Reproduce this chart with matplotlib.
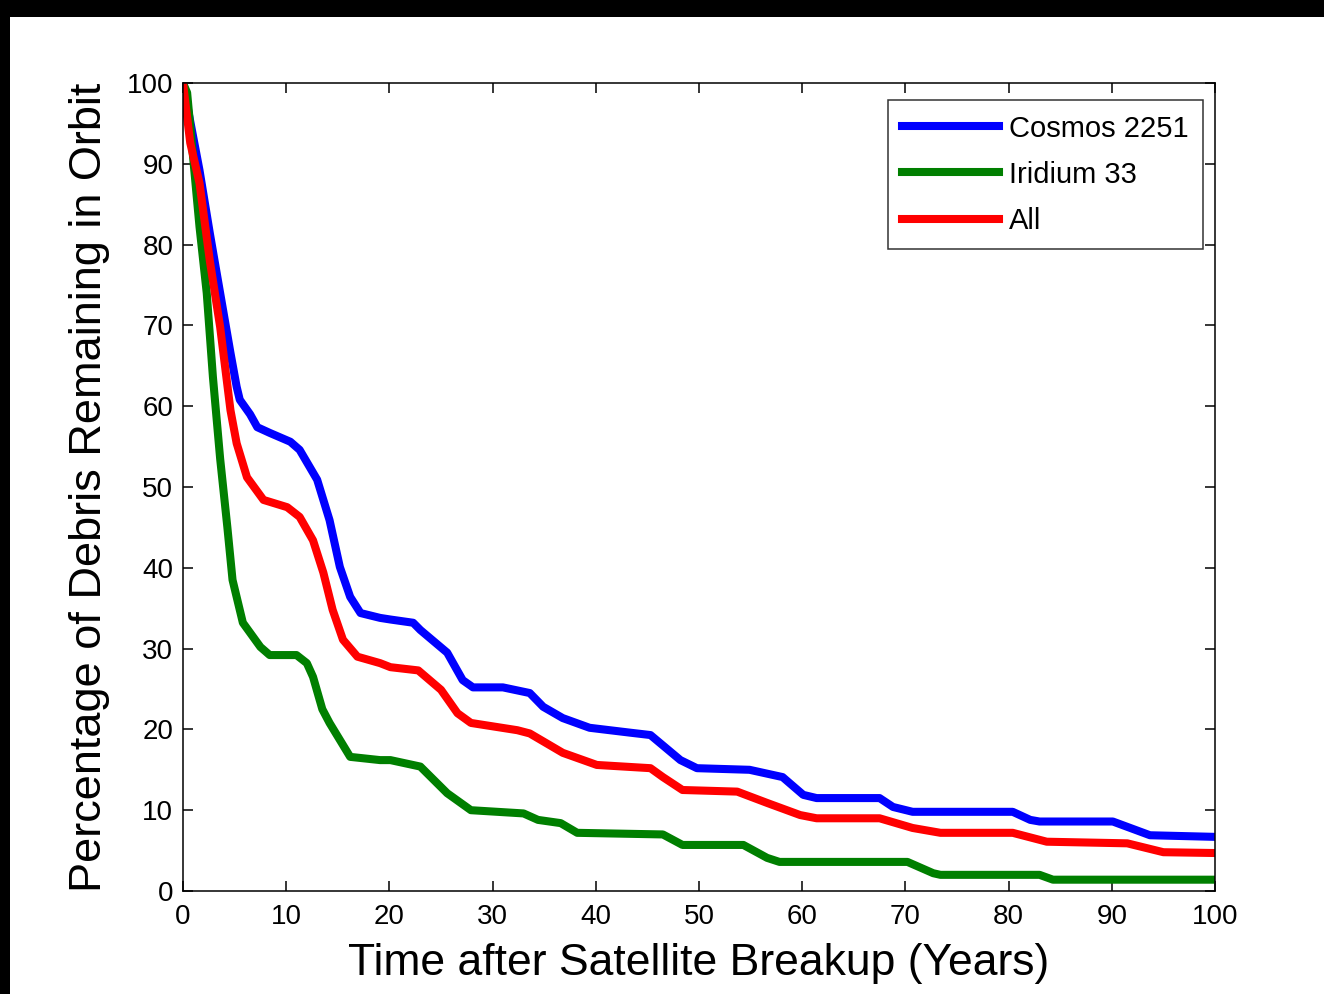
import numpy as np
import matplotlib
matplotlib.use('Agg')
import matplotlib.pyplot as plt
from matplotlib.patches import Rectangle

plt.rcParams['font.family'] = ['Liberation Sans', 'DejaVu Sans']

# values (years, % remaining)
cosmos_t = [0, 1.6, 2.6, 3.6, 4.6, 5.2, 5.5, 6.5, 7.2, 8.4, 10.4, 11.3, 13.0, 14.2, 15.2, 16.2,
            17.2, 19.1, 20.1, 22.3, 23.0, 25.6, 27.1, 28.1, 31.0, 33.6, 34.9, 36.8, 39.4, 43.3,
            45.3, 48.2, 49.8, 54.9, 58.1, 60.1, 61.4, 67.5, 68.8, 70.7, 80.4, 82.1, 83.0, 90.1,
            93.7, 100]
cosmos_v = [100, 89.2, 81.4, 74, 66.6, 62.4, 60.8, 59.0, 57.4, 56.7, 55.6, 54.6, 50.9, 45.9, 40.1,
            36.4, 34.4, 33.8, 33.6, 33.2, 32.3, 29.5, 26.1, 25.2, 25.2, 24.5, 22.8, 21.4, 20.2,
            19.6, 19.3, 16.2, 15.2, 15.0, 14.1, 11.9, 11.5, 11.5, 10.4, 9.8, 9.8, 8.8, 8.6, 8.6,
            6.9, 6.7]

iridium_t = [0, 0.4, 1.0, 1.6, 2.3, 2.9, 3.6, 4.3, 4.8, 5.8, 7.5, 8.4, 11.0, 12.0, 12.6, 13.5,
             14.2, 16.2, 19.1, 20.1, 23.0, 25.6, 27.9, 33.0, 34.4, 36.6, 38.2, 46.5, 48.4, 54.3,
             56.6, 57.8, 70.2, 72.7, 73.4, 83.0, 84.3, 100]
iridium_v = [100, 98.8, 90.5, 82.2, 74, 63.6, 53.5, 45, 38.5, 33.2, 30.2, 29.2, 29.2, 28.2, 26.5,
             22.5, 20.8, 16.6, 16.2, 16.2, 15.4, 12.1, 10.0, 9.6, 8.8, 8.4, 7.2, 7.0, 5.7, 5.7,
             4.1, 3.6, 3.6, 2.2, 2.0, 2.0, 1.4, 1.4]

all_t = [0, 0.7, 1.6, 2.6, 3.6, 4.6, 5.2, 6.2, 7.8, 10.1, 11.3, 12.6, 13.6, 14.5, 15.5, 16.9,
         19.1, 20.1, 22.8, 25.0, 26.6, 27.9, 32.4, 33.6, 36.8, 40.1, 45.3, 46.5, 48.4, 53.7,
         56.6, 59.8, 61.4, 67.5, 70.7, 73.4, 80.4, 83.7, 91.5, 95.0, 100]
all_v = [100, 92.6, 87.6, 78, 69.8, 59.5, 55.4, 51.2, 48.4, 47.5, 46.3, 43.4, 39.4, 34.8, 31.1,
         29.0, 28.2, 27.7, 27.3, 24.9, 22.0, 20.8, 19.9, 19.5, 17.1, 15.6, 15.2, 14.1, 12.5,
         12.3, 10.9, 9.4, 9.0, 9.0, 7.8, 7.2, 7.2, 6.1, 5.9, 4.8, 4.7]

ticks = np.arange(0, 101, 10)

fig = plt.figure(figsize=(13.24, 9.94), dpi=100)
fig.patch.set_facecolor('white')
# black bands at top and left edge of the screenshot
fig.patches.append(Rectangle((0, 1 - 17 / 994), 1, 17 / 994, transform=fig.transFigure,
                             facecolor='black', edgecolor='none', zorder=0))
fig.patches.append(Rectangle((0, 0), 10 / 1324, 1, transform=fig.transFigure,
                             facecolor='black', edgecolor='none', zorder=0))

ax = fig.add_axes([183 / 1324, 103 / 994, 1032 / 1324, 808 / 994])
lw = 5.8
ax.plot(cosmos_t, cosmos_v, color='#0000ff', lw=lw, label='Cosmos 2251')
ax.plot(iridium_t, iridium_v, color='#007f00', lw=lw, label='Iridium 33')
ax.plot(all_t, all_v, color='#ff0000', lw=lw, label='All')

ax.set_xlim(0, 100)
ax.set_ylim(0, 100)
ax.set_xticks(ticks)
ax.set_yticks(ticks)
ax.tick_params(direction='in', length=7, width=1.1, top=True, right=True,
               labelsize=20, pad=7)
ax.tick_params(axis='x', pad=9)
for s in ax.spines.values():
    s.set_linewidth(1.1)

ax.set_xlabel('Time after Satellite Breakup (Years)', fontsize=32, labelpad=10)
ax.set_ylabel('Percentage of Debris Remaining in Orbit', fontsize=32.5, labelpad=12)

leg = ax.legend(loc='upper right', bbox_to_anchor=((1203 - 183) / 1032, (891 - 100) / 808),
                borderaxespad=0, fontsize=21, handlelength=3.3, frameon=True,
                fancybox=False, edgecolor='black', labelspacing=0.62, handletextpad=0.35,
                borderpad=0.5, handleheight=0.7)
leg.get_frame().set_linewidth(1.1)
for h in leg.get_lines():
    h.set_linewidth(5.8)

fig.savefig('out.png', dpi=100)
